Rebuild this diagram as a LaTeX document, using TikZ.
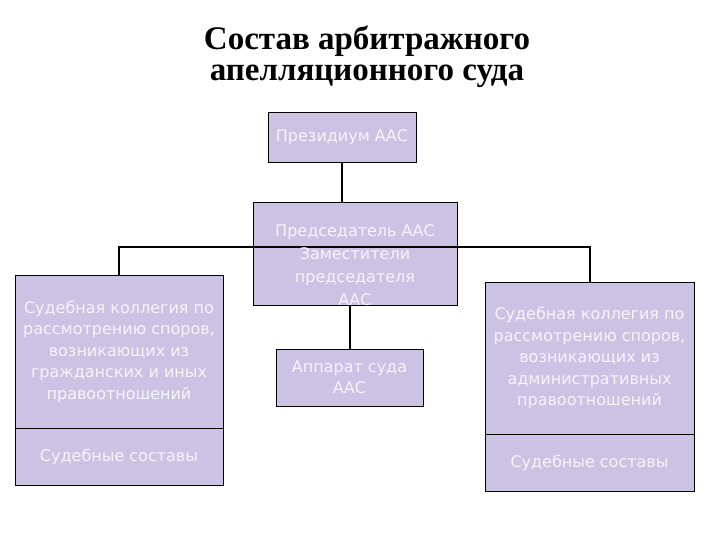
\documentclass[tikz,border=0pt]{standalone}
\usepackage{fontspec}
\setmainfont{Liberation Serif}
\newfontfamily\boxfont{DejaVu Sans}
\usetikzlibrary{positioning}
\definecolor{boxfill}{HTML}{CCC2E4}
\definecolor{boxink}{HTML}{F6F4FB}

\begin{document}
\begin{tikzpicture}[x=1pt, y=-1pt,
    unit/.style={draw=black, line width=0.9pt, fill=boxfill, text=boxink,
      font=\boxfont\fontsize{16}{21.5}\selectfont, align=center, inner sep=0pt},
    bare/.style={text=boxink, font=\boxfont\fontsize{16}{23.3}\selectfont,
      align=center, inner sep=0pt},
    link/.style={line width=2pt}]
  \useasboundingbox (0,0) rectangle (720,540);
  % ------------------------------------------------------------------ title
  \node[font=\bfseries\fontsize{33}{31}\selectfont, align=center] (title) at (367,57)
    {Состав арбитражного\\апелляционного суда};
  % ------------------------------------------------------------------ centre column
  \node[unit, minimum width=148, minimum height=50] (presidium) at (342,137) {Президиум ААС};
  \node[unit, minimum width=204, minimum height=103] (chair) at (355,253.5) {};
  \node[unit, minimum width=147, minimum height=57] (apparatus) at (349.5,377.5)
    {Аппарат суда\\ААС};
  % ------------------------------------------------------------------ the two boards
  \node[unit, minimum width=208, minimum height=153] (civil) at (119,351.5)
    {Судебная коллегия по\\рассмотрению споров,\\возникающих из\\гражданских и иных\\правоотношений};
  \node[unit, minimum width=208, minimum height=57, below=0pt of civil] (civilsub)
    {Судебные составы};
  \node[unit, minimum width=209, minimum height=152] (admin) at (589.5,358)
    {Судебная коллегия по\\рассмотрению споров,\\возникающих из\\административных\\правоотношений};
  \node[unit, minimum width=209, minimum height=57, below=0pt of admin] (adminsub)
    {Судебные составы};
  % ------------------------------------------------------------------ links
  \coordinate (bus) at (342,247);
  \draw[link] (presidium.south) -- (presidium.south |- chair.north);
  \draw[link] (apparatus.north |- chair.south) -- (apparatus.north);
  \draw[link] (civil.north) |- (bus) -| (admin.north);
  \node[bare, anchor=north] (chairtext) at (355,224)
    {Председатель ААС\\Заместители\\председателя\\ААС};
\end{tikzpicture}
\end{document}
